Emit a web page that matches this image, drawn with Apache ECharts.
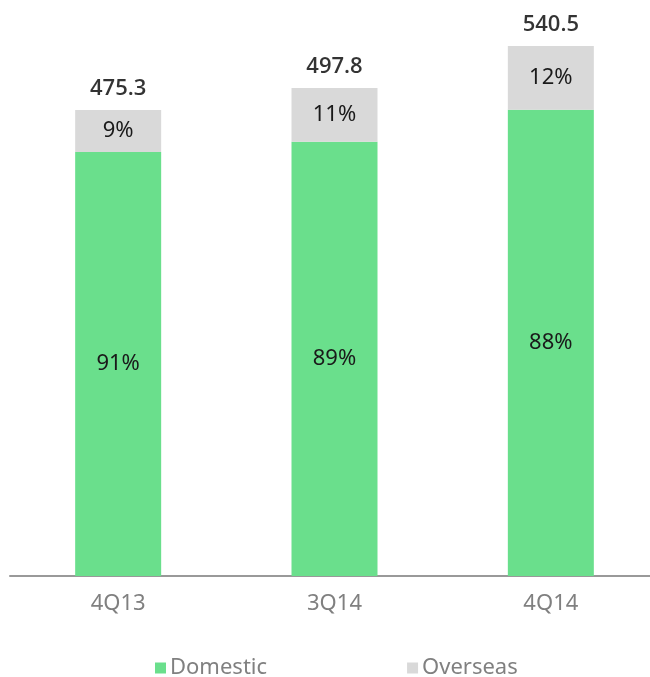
<!DOCTYPE html>
<html><head><meta charset="utf-8">
<script src="https://cdn.jsdelivr.net/npm/echarts@6/dist/echarts.min.js"></script>
<style>html,body{margin:0;padding:0;background:#fff;overflow:hidden}#c{width:660px;height:677px}</style>
</head><body><div id="c"></div>
<script>
const categories = ['4Q13', '3Q14', '4Q14'];
const totals = [475.3, 497.8, 540.5];
const domestic = [432.5, 443.0, 475.6];
const overseas = [42.8, 54.8, 64.9];
const domesticPct = ['91%', '89%', '88%'];
const overseasPct = ['9%', '11%', '12%'];

const FONT = '"Noto Sans", "Open Sans", sans-serif';
const chart = echarts.init(document.getElementById('c'));
chart.setOption({
  animation: false,
  textStyle: { fontFamily: FONT },
  grid: { left: 10, top: 0, right: 1, height: 576 },
  xAxis: {
    type: 'category', data: categories,
    axisLine: { lineStyle: { color: '#999999', width: 2 } },
    axisTick: { show: false },
    axisLabel: { color: '#808080', fontSize: 22, fontFamily: FONT, margin: 17 }
  },
  yAxis: { type: 'value', min: 0, max: 587.5, show: false, splitLine: { show: false } },
  legend: {
    left: 150, top: 652, itemWidth: 11, itemHeight: 11, itemGap: 140,
    textStyle: { color: '#808080', fontSize: 22, fontFamily: FONT, padding: [0, 0, 0, -1] },
    data: [{ name: 'Domestic', icon: 'rect' }, { name: 'Overseas', icon: 'rect' }]
  },
  series: [
    {
      name: 'Domestic', type: 'bar', stack: 's', barWidth: 86, data: domestic,
      itemStyle: { color: '#6ADF8C' },
      label: { show: true, position: 'inside', color: '#1a1a1a', fontSize: 22, fontFamily: FONT,
        formatter: p => domesticPct[p.dataIndex] }
    },
    {
      name: 'Overseas', type: 'bar', stack: 's', barWidth: 86, data: overseas,
      itemStyle: { color: '#D9D9D9' },
      label: { show: true, position: 'inside', color: '#1a1a1a', fontSize: 22, fontFamily: FONT,
        formatter: p => overseasPct[p.dataIndex] }
    },
    {
      name: 'Total', type: 'scatter', data: totals, symbolSize: 0.01, silent: true,
      label: { show: true, position: 'top', distance: 10, color: '#000', fontSize: 22,
        fontWeight: 600, fontFamily: '"Open Sans", "Noto Sans", sans-serif',
        formatter: p => p.value.toFixed(1) }
    }
  ]
});
</script></body></html>
